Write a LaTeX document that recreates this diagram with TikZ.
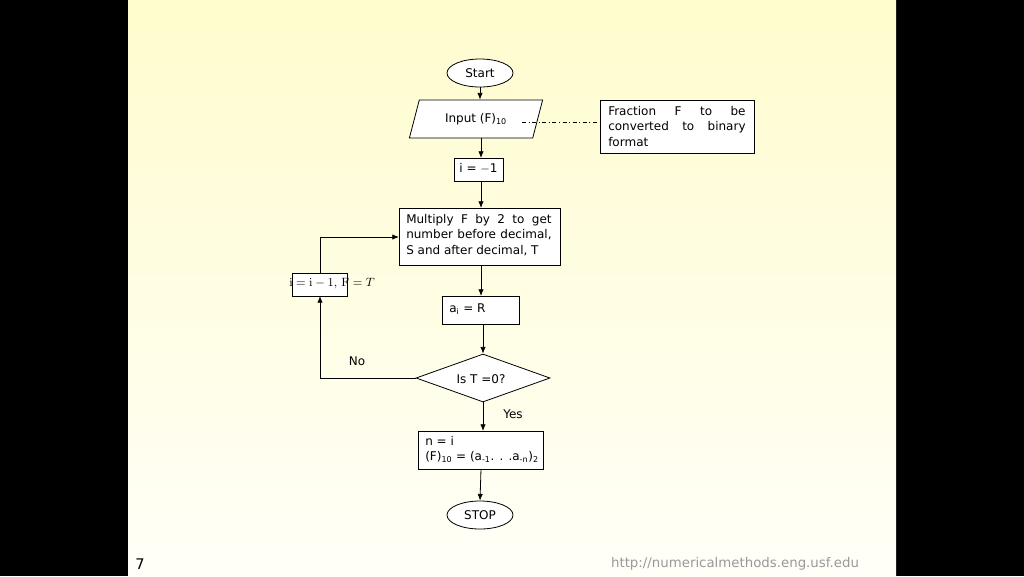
\documentclass[tikz,border=0pt]{standalone}
\usepackage[no-math]{fontspec}
\setmainfont{DejaVu Sans}
\usetikzlibrary{shapes.geometric,arrows.meta}
\begin{document}
\begin{tikzpicture}[x=0.75pt,y=-0.75pt,
  every node/.style={font=\fontsize{9}{11.5}\selectfont, inner sep=0pt},
  boxn/.style={draw, fill=white, line width=0.6pt, anchor=north west},
  ovaln/.style={draw, fill=white, ellipse, line width=0.6pt},
  arr/.style={-{Latex[length=5pt,width=4pt]}, line width=0.6pt},
  ln/.style={line width=0.6pt},
  jtext/.style={anchor=north west, align=left}]
\fill[black] (0,0) rectangle (1024,576);
\shade[top color={rgb,255:red,255;green,252;blue,205}, bottom color={rgb,255:red,255;green,255;blue,248}] (128,0) rectangle (896,576);
\useasboundingbox (0,0) rectangle (1024,576);

\node[ovaln, minimum width=49.5pt, minimum height=21pt] (start) at (480,73) {Start};
\node[draw, fill=white, trapezium, trapezium left angle=65, trapezium right angle=115, line width=0.6pt, minimum width=100pt, minimum height=28.5pt, trapezium stretches=true] (inp) at (476,119) {Input (F)\textsubscript{10}};
\node[boxn, minimum width=115.5pt, minimum height=39.75pt] (note) at (600,100) {};
\node[jtext] (notet) at (608,106) {\makebox[103pt][s]{Fraction\hfill F\hfill to\hfill be}\\\makebox[103pt][s]{converted\hfill to\hfill binary}\\format};
\node[boxn, minimum width=36.75pt, minimum height=17.25pt] (ini) at (454,158) {};
\node (init) at (478.5,168) {i = $-$1};
\node[boxn, minimum width=120.75pt, minimum height=42.75pt] (mul) at (399,208) {};
\node[jtext] (mult) at (406,214) {\makebox[109pt][s]{Multiply\hfill F\hfill by\hfill 2\hfill to\hfill get}\\\makebox[109pt][s]{number\hfill before\hfill decimal,}\\S and after decimal, T};
\node[boxn, minimum width=41.25pt, minimum height=17.25pt] (dec) at (292,273) {};
\node[font=\fontsize{9.5}{12}\selectfont] (dect) at (332,284) {$\mathrm{i}=\mathrm{i}-1,\,\mathrm{F}=T$};
\node[boxn, minimum width=57.75pt, minimum height=21pt] (ai) at (442,296) {};
\node[anchor=west] (ait) at (449,309) {a\textsubscript{i} = R};
\node[draw, fill=white, diamond, aspect=2.8, line width=0.6pt, minimum width=100.5pt, minimum height=36pt, inner sep=0pt] (dia) at (483,378) {};
\node (diat) at (481,379) {Is T =0?};
\node (no) at (357,361) {No};
\node (yes) at (513,414) {Yes};
\node[boxn, minimum width=93.75pt, minimum height=28.5pt] (fin) at (418,431) {};
\node[jtext] (fint) at (425,436) {n = i\\(F)\textsubscript{10} = (a\textsubscript{-1}. . .a\textsubscript{-n})\textsubscript{2}};
\node[ovaln, minimum width=49.5pt, minimum height=21pt] (stop) at (480,515) {STOP};

\node[font=\fontsize{11}{13}\selectfont, text=black] (pg) at (140,564) {7};
\node[font=\fontsize{10}{13}\selectfont, text=black!40] (url) at (735,564) {http://numericalmethods.eng.usf.edu};

\draw[arr] (start.south) -- (inp.north -| start.south);
\draw[arr] (481,138) -- (481,158);
\draw[arr] (481,181) -- (481,208);
\draw[arr] (481,265) -- (481,296);
\draw[arr] (483,324) -- (dia.north);
\draw[arr] (dia.south) -- (483,431);
\draw[arr] (481,469) -- (stop.north);
\draw[ln] (dia.west) -- (320,378);
\draw[arr] (320,378) -- (320,296);
\draw[ln] (320,273) -- (320,237);
\draw[arr] (320,237) -- (399,237);
\draw[ln, dash dot] (522,122) -- (600,122);
\end{tikzpicture}
\end{document}
